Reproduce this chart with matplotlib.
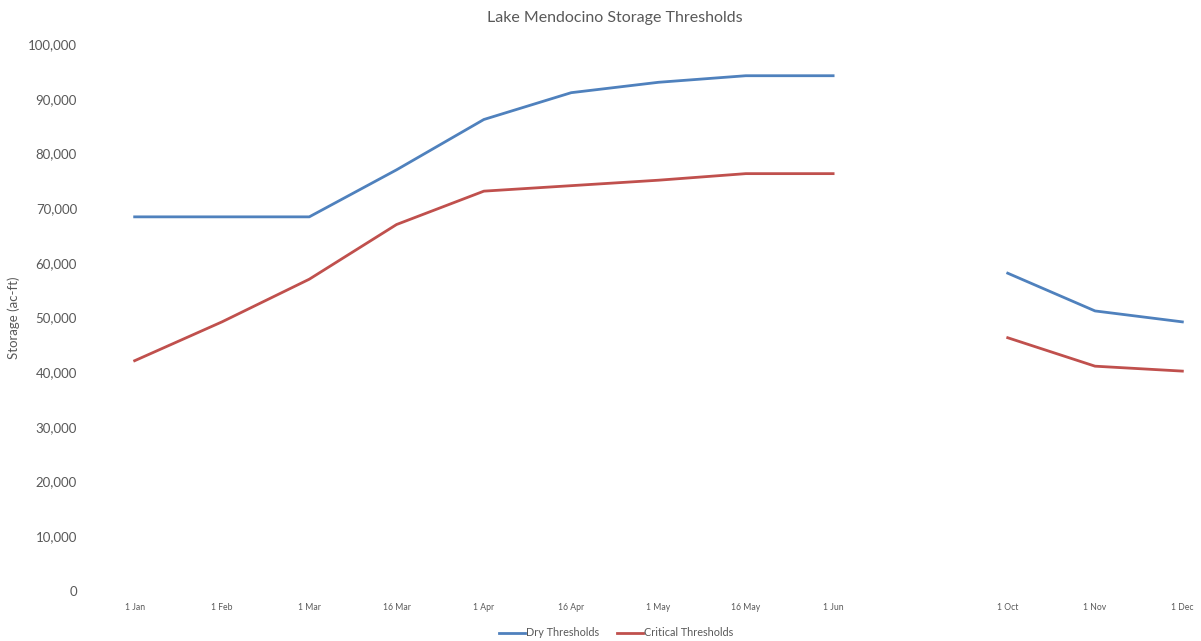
import numpy as np
import matplotlib.pyplot as plt
from matplotlib.ticker import FuncFormatter

DATES = ["1 Jan", "1 Feb", "1 Mar", "16 Mar", "1 Apr", "16 Apr", "1 May",
         "16 May", "1 Jun", "", "1 Oct", "1 Nov", "1 Dec"]
DRY = [68400, 68400, 68400, 77000, 86200, 91100, 93000, 94200, 94200,
       np.nan, 58100, 51200, 49200]
CRITICAL = [42100, 49200, 57000, 67000, 73100, 74100, 75100, 76300, 76300,
            np.nan, 46300, 41100, 40200]

BLUE = "#4F81BD"
RED = "#C0504D"
GREY = "#595959"

plt.rcParams["font.family"] = ["Lato", "DejaVu Sans"]

fig = plt.figure(figsize=(12.01, 6.41), dpi=100)
ax = fig.add_axes([91 / 1201, 50 / 641, 1135 / 1201, 547 / 641])

x = np.arange(len(DATES))
ax.plot(x, DRY, color=BLUE, lw=2.0, label="Dry Thresholds")
ax.plot(x, CRITICAL, color=RED, lw=2.0, label="Critical Thresholds")

ax.set_xlim(-0.5, len(DATES) - 0.5)
ax.set_ylim(0, 100000)
ax.set_yticks(range(0, 100001, 10000))
ax.yaxis.set_major_formatter(FuncFormatter(lambda v, p: f"{int(v):,}"))
ax.set_xticks(x)
ax.set_xticklabels(DATES, fontsize=6.2, color=GREY)
ax.tick_params(axis="y", labelsize=9.5, colors=GREY, length=0, pad=10)
ax.tick_params(axis="x", length=0, pad=9)
for s in ax.spines.values():
    s.set_visible(False)

ax.set_ylabel("Storage (ac-ft)", fontsize=9.5, color=GREY, labelpad=6)
fig.text(0.512, 0.972, "Lake Mendocino Storage Thresholds", ha="center",
         va="center", fontsize=11.5, color=GREY)

fig.legend(loc="center", bbox_to_anchor=(0.513, 0.0125), ncol=2, frameon=False,
           fontsize=7.8, handlelength=2.4, columnspacing=1.7, handletextpad=0.1,
           labelcolor=GREY)

fig.savefig("out.png", dpi=100)
